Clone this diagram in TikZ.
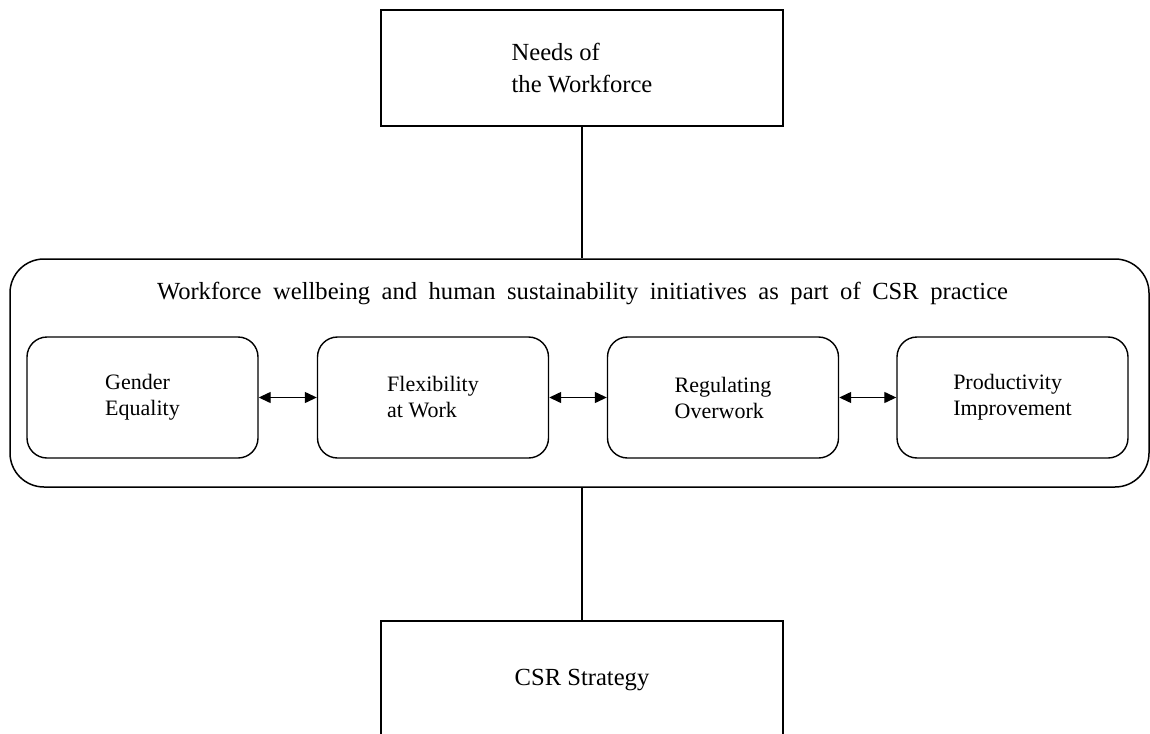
\documentclass[tikz,border=0pt]{standalone}
\usepackage{fontspec}
\setmainfont{Liberation Serif}
\usetikzlibrary{arrows.meta}

\begin{document}
\begin{tikzpicture}[x=0.5pt, y=-0.5pt, >={Triangle[length=6pt,width=5.5pt]},
  font=\fontsize{12.3}{16}\selectfont,
  outer/.style={rectangle, draw, line width=1pt, align=left,
                minimum width=201pt, minimum height=58pt},
  frame/.style={rectangle, rounded corners=17pt, draw, line width=0.75pt,
                minimum width=569.5pt, minimum height=114pt},
  item/.style={rectangle, rounded corners=10pt, draw, line width=0.7pt, align=left,
               minimum width=115.5pt, minimum height=60.5pt,
               font=\fontsize{11}{13}\selectfont},
  link/.style={line width=0.65pt}]
  \useasboundingbox (0,0) rectangle (1150,733);
  \node[outer] (needs) at (582,68) {Needs of\\the Workforce};
  \node[frame] (initiatives) at (579.5,373) {};
  \node (title) at (582.5,293)
    {\makebox[425.5pt][s]{Workforce wellbeing and human sustainability initiatives as part of CSR practice}};
  \node[item] (gender) at (142.5,397.5) {Gender\\Equality};
  \node[item] (flex)   at (433,397.5)   {Flexibility\\at Work};
  \node[item] (overw)  at (723,397.5)   {Regulating\\Overwork};
  \node[item] (prod)   at (1012.5,397.5){Productivity\\Improvement};
  \node[outer, anchor=north, minimum height=60pt] (csr) at (582,620)
    {\raisebox{3.5pt}{CSR Strategy}};
  \draw[link] (needs.south) -- (needs.south |- initiatives.north);
  \draw[link] (initiatives.south -| csr.north) -- (csr.north);
  \draw[link, <->] (gender) -- (flex);
  \draw[link, <->] (flex) -- (overw);
  \draw[link, <->] (overw) -- (prod);
\end{tikzpicture}
\end{document}
